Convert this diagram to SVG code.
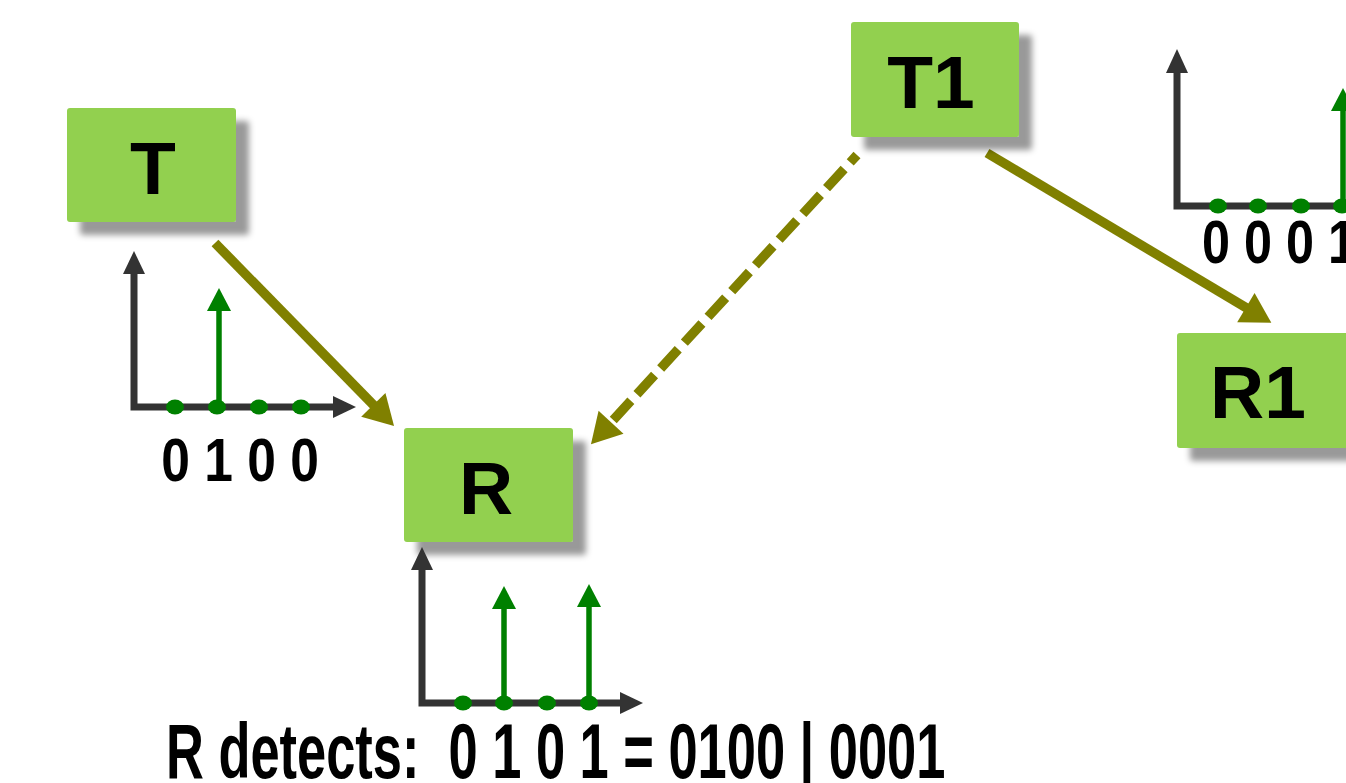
<svg xmlns="http://www.w3.org/2000/svg" width="1346" height="783" viewBox="0 0 1346 783">
  <style>
    .box { fill: #92D050; filter: url(#shadow); }
    .label { font-family: "Liberation Sans", Arial, sans-serif; font-weight: bold; fill: #000; text-anchor: middle; }
    .node-label { font-size: 75px; }
    .bits { font-size: 61px; }
    .caption { font-size: 78px; text-anchor: start; }
    .link { stroke: #808000; stroke-width: 9.5; fill: none; }
    .axis { stroke: #333333; stroke-width: 7; fill: none; stroke-linejoin: miter; }
    .axis-head { fill: #333333; }
    .stem { stroke: #008000; stroke-width: 5.5; }
    .stem-head { fill: #008000; }
    .dot { fill: #008000; }
  </style>
  <defs>
    <filter id="shadow" x="-20%" y="-20%" width="150%" height="160%">
      <feDropShadow dx="13" dy="13" stdDeviation="3" flood-color="#000" flood-opacity="0.4"/>
    </filter>
    <marker id="olive-head" markerUnits="userSpaceOnUse" markerWidth="32" markerHeight="36" viewBox="0 -17 29 34" refX="2" refY="0" orient="auto">
      <path d="M0,-16 L28,0 L0,16 Z" fill="#808000"/>
    </marker>
  </defs>

  <rect width="1346" height="783" fill="#ffffff"/>

  <!-- connectors -->
  <g id="connectors">
    <line class="link" x1="215" y1="243" x2="374.8" y2="406.4" marker-end="url(#olive-head)"/>
    <line class="link" x1="857" y1="155" x2="609.6" y2="423.9" stroke-dasharray="26 9" stroke-dashoffset="16" marker-end="url(#olive-head)"/>
    <line class="link" x1="987" y1="153" x2="1247.7" y2="308.7" marker-end="url(#olive-head)"/>
  </g>

  <!-- nodes -->
  <g id="node-T">
    <rect class="box" x="67" y="108" width="169" height="114" rx="3"/>
    <text class="label node-label" x="153" y="194">T</text>
  </g>
  <g id="node-R">
    <rect class="box" x="404" y="428" width="169" height="114" rx="3"/>
    <text class="label node-label" x="486" y="514">R</text>
  </g>
  <g id="node-T1">
    <rect class="box" x="851" y="22" width="168" height="115" rx="3"/>
    <text class="label node-label" x="931" y="108">T1</text>
  </g>
  <g id="node-R1">
    <rect class="box" x="1177" y="333" width="175" height="115" rx="3"/>
    <text class="label node-label" x="1258" y="418">R1</text>
  </g>

  <!-- pulse chart sent by T -->
  <g id="chart-T">
    <path class="axis" d="M134,272 V407 H335"/>
    <polygon class="axis-head" points="134,251 145,274 123,274"/>
    <polygon class="axis-head" points="356,407 333,396 333,418"/>
    <line class="stem" x1="219" y1="407" x2="219" y2="308"/>
    <polygon class="stem-head" points="219,288 231,311 207,311"/>
    <ellipse class="dot" cx="175" cy="407" rx="9" ry="7.5"/>
    <ellipse class="dot" cx="217" cy="407" rx="9" ry="7.5"/>
    <ellipse class="dot" cx="259" cy="407" rx="9" ry="7.5"/>
    <ellipse class="dot" cx="301" cy="407" rx="9" ry="7.5"/>
    <text class="label bits" transform="translate(240,481) scale(0.845,1)">0 1 0 0</text>
  </g>

  <!-- pulse chart received at R -->
  <g id="chart-R">
    <path class="axis" d="M422,568 V703 H622"/>
    <polygon class="axis-head" points="422,547 433,570 411,570"/>
    <polygon class="axis-head" points="643,703 620,692 620,714"/>
    <line class="stem" x1="504" y1="703" x2="504" y2="606"/>
    <polygon class="stem-head" points="504,586 516,609 492,609"/>
    <line class="stem" x1="589" y1="703" x2="589" y2="604"/>
    <polygon class="stem-head" points="589,584 601,607 577,607"/>
    <ellipse class="dot" cx="463" cy="703" rx="9" ry="7.5"/>
    <ellipse class="dot" cx="504" cy="703" rx="9" ry="7.5"/>
    <ellipse class="dot" cx="547" cy="703" rx="9" ry="7.5"/>
    <ellipse class="dot" cx="589" cy="703" rx="9" ry="7.5"/>
  </g>

  <!-- pulse chart sent by T1 -->
  <g id="chart-T1">
    <path class="axis" d="M1177,70 V206 H1360"/>
    <polygon class="axis-head" points="1177,49 1188,73 1166,73"/>
    <line class="stem" x1="1343" y1="206" x2="1343" y2="108"/>
    <polygon class="stem-head" points="1343,88 1355,111 1331,111"/>
    <ellipse class="dot" cx="1218" cy="206" rx="9" ry="7.5"/>
    <ellipse class="dot" cx="1258" cy="206" rx="9" ry="7.5"/>
    <ellipse class="dot" cx="1301" cy="206" rx="9" ry="7.5"/>
    <ellipse class="dot" cx="1342" cy="206" rx="9" ry="7.5"/>
    <text class="label bits" transform="translate(1279,263) scale(0.825,1)">0 0 0 1</text>
  </g>

  <text class="label caption" transform="translate(166,778) scale(0.672,1)" xml:space="preserve">R detects:  0 1 0 1 = 0100 | 0001</text>
</svg>
